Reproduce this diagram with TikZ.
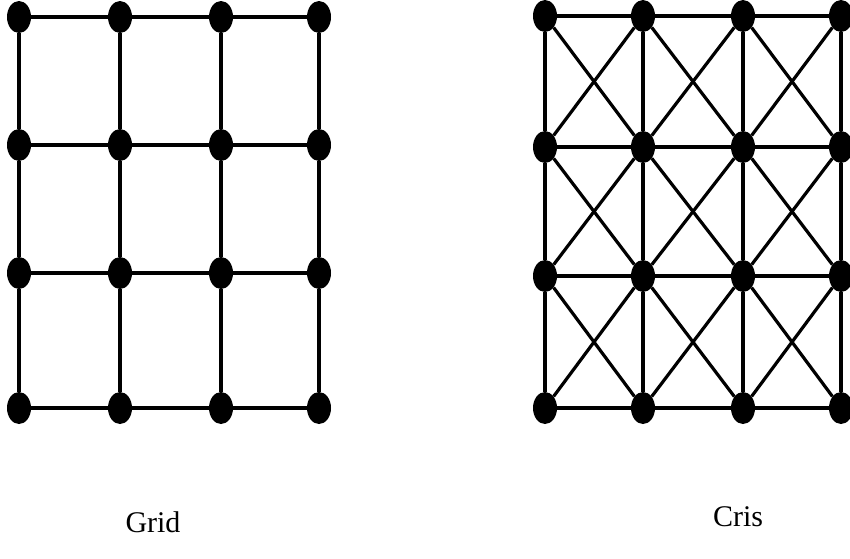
\documentclass[tikz,border=0pt]{standalone}
\usepackage{fontspec}
\setmainfont{Liberation Serif}
\usetikzlibrary{shapes.geometric}
\tikzset{dot/.style={fill,ellipse,minimum width=24pt,minimum height=32pt,inner sep=0pt},ln/.style={line width=3.2pt},lbl/.style={font=\fontsize{30}{34}\selectfont}}
\begin{document}
\begin{tikzpicture}[x=1pt,y=-1pt]
\useasboundingbox(0,0)rectangle(850,558);
\foreach\i/\y/\z in{0/17/16,1/145/147,2/273/276,3/408/408}{
\foreach\j/\x in{0/19,1/120,2/221,3/319}\node[dot](g\i\j)at(\x,\y){};
\foreach\j/\x in{0/545,1/643,2/743,3/841}\node[dot](c\i\j)at(\x,\z){};}
\foreach\i in{0,...,3}\foreach\j/\k in{0/1,1/2,2/3}{\draw[ln](g\i\j)--(g\i\k);\draw[ln](g\j\i)--(g\k\i);
\draw[ln](c\i\j)--(c\i\k);\draw[ln](c\j\i)--(c\k\i);}
\foreach\i/\k in{0/1,1/2,2/3}\foreach\j/\l in{0/1,1/2,2/3}{\draw[ln](c\i\j)--(c\k\l);\draw[ln](c\i\l)--(c\k\j);}
\node[lbl](gl)at(153,522){Grid};\node[lbl](cl)at(738,517){Cris};
\end{tikzpicture}
\end{document}
